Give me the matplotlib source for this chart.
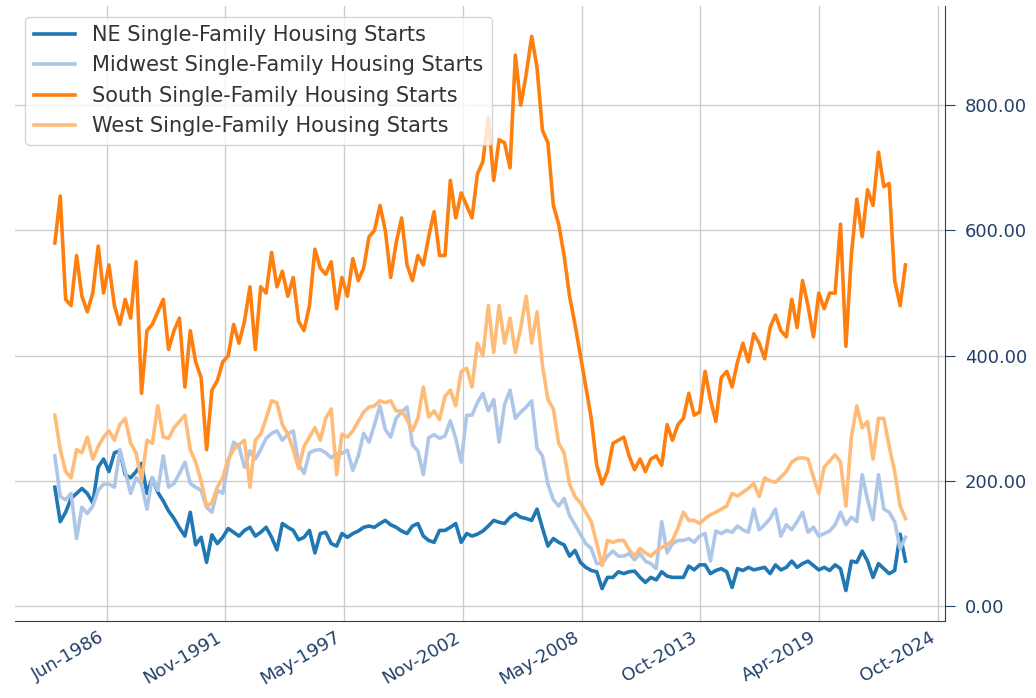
import matplotlib
matplotlib.use("Agg")
import matplotlib.pyplot as plt
import matplotlib.dates as mdates
import pandas as pd

# quarterly readings, Jan-1984 .. Apr-2023 (thousands of units, SAAR)
dates = pd.date_range("1984-01-01", periods=158, freq="QS")

ne = [190, 135, 150, 172, 180, 188, 180, 165, 222, 235, 215, 245, 248, 210, 205, 215,
      228, 180, 205, 182, 168, 152, 140, 125, 112, 150, 98, 110, 70, 114, 100, 110,
      124, 118, 112, 121, 126, 112, 118, 126, 110, 90, 132, 126, 121, 106, 110, 121,
      85, 116, 118, 100, 96, 116, 110, 116, 120, 126, 128, 126, 132, 137, 130, 126,
      120, 116, 128, 132, 112, 105, 102, 121, 121, 126, 132, 102, 116, 112, 115, 120,
      128, 137, 134, 132, 142, 148, 142, 140, 137, 155, 125, 96, 108, 102, 98, 80,
      89, 70, 62, 57, 55, 28, 46, 46, 55, 52, 55, 56, 46, 38, 46, 42,
      55, 48, 46, 46, 46, 64, 58, 66, 66, 52, 57, 60, 55, 30, 60, 57,
      62, 58, 60, 62, 52, 66, 58, 62, 72, 62, 68, 72, 65, 58, 62, 57,
      66, 60, 25, 72, 70, 88, 72, 46, 68, 60, 52, 57, 115, 72]

midwest = [240, 175, 170, 180, 108, 158, 148, 160, 185, 195, 195, 190, 250, 215, 180, 205,
           195, 155, 205, 185, 240, 190, 196, 212, 230, 196, 190, 185, 158, 150, 185, 180,
           230, 262, 255, 222, 248, 235, 250, 268, 276, 280, 265, 275, 280, 228, 212, 245,
           249, 250, 245, 237, 244, 244, 249, 217, 240, 276, 262, 290, 320, 282, 270, 300,
           310, 318, 258, 248, 210, 269, 274, 268, 272, 296, 268, 230, 305, 305, 325, 340,
           312, 330, 262, 322, 345, 300, 310, 318, 328, 252, 240, 195, 170, 160, 172, 145,
           130, 115, 100, 92, 68, 68, 80, 88, 80, 80, 84, 74, 84, 72, 68, 60,
           135, 85, 100, 105, 105, 108, 102, 112, 116, 72, 120, 116, 121, 118, 128, 122,
           118, 155, 122, 130, 140, 155, 112, 130, 122, 135, 150, 118, 126, 112, 116, 120,
           130, 150, 130, 142, 135, 210, 170, 138, 210, 155, 150, 135, 92, 110]

south = [580, 655, 490, 480, 560, 495, 470, 500, 575, 500, 545, 480, 450, 490, 460, 550,
         340, 440, 450, 470, 490, 410, 440, 460, 350, 440, 390, 365, 250, 345, 360, 390,
         400, 450, 420, 455, 510, 410, 510, 500, 565, 510, 535, 495, 525, 455, 440, 480,
         570, 540, 530, 550, 475, 525, 495, 555, 520, 540, 590, 600, 640, 600, 525, 580,
         620, 545, 520, 560, 545, 590, 630, 560, 560, 680, 620, 660, 640, 620, 690, 710,
         780, 680, 745, 740, 700, 880, 800, 850, 910, 860, 760, 740, 640, 610, 560, 495,
         450, 400, 350, 300, 225, 195, 215, 260, 265, 270, 240, 218, 235, 215, 235, 240,
         225, 290, 265, 290, 300, 340, 305, 310, 375, 330, 295, 365, 375, 350, 390, 420,
         390, 435, 420, 395, 445, 465, 440, 430, 490, 445, 520, 480, 430, 500, 475, 500,
         500, 610, 415, 560, 650, 590, 665, 640, 725, 670, 675, 520, 480, 545]

west = [305, 250, 215, 205, 250, 245, 270, 235, 255, 270, 280, 265, 290, 300, 260, 245,
        200, 265, 260, 320, 270, 268, 285, 295, 305, 250, 230, 200, 160, 165, 190, 205,
        235, 250, 258, 265, 190, 265, 275, 300, 328, 325, 290, 275, 250, 220, 255, 270,
        285, 265, 300, 315, 210, 275, 270, 280, 295, 310, 318, 320, 328, 325, 328, 312,
        312, 298, 280, 300, 350, 302, 312, 298, 335, 345, 320, 375, 380, 350, 420, 400,
        480, 405, 480, 420, 460, 405, 445, 495, 420, 470, 385, 330, 315, 260, 245, 195,
        175, 165, 150, 135, 100, 65, 105, 102, 105, 105, 90, 80, 92, 85, 80, 88,
        94, 98, 105, 125, 150, 137, 137, 132, 140, 146, 150, 155, 160, 180, 176, 182,
        188, 196, 175, 205, 200, 198, 206, 215, 230, 236, 237, 235, 206, 180, 222, 232,
        242, 230, 160, 270, 320, 285, 295, 235, 300, 300, 255, 215, 160, 140]

labels = ["NE Single-Family Housing Starts", "Midwest Single-Family Housing Starts",
          "South Single-Family Housing Starts", "West Single-Family Housing Starts"]
colors = ["#1f77b4", "#aec7e8", "#ff7f0e", "#ffbb78"]
tick_dates = pd.to_datetime(["1986-06-01", "1991-11-01", "1997-05-01", "2002-11-01",
                             "2008-05-01", "2013-10-01", "2019-04-01", "2024-10-01"])

navy = "#22406a"

fig = plt.figure(figsize=(10.36, 6.98), dpi=100)
ax = fig.add_axes([0.0145, 0.110, 0.898, 0.881])

for vals, lab, col in zip([ne, midwest, south, west], labels, colors):
    ax.plot(dates, vals, color=col, linewidth=2.6, label=lab)

ax.set_xlim(pd.Timestamp("1982-03-01"), pd.Timestamp("2025-02-01"))
ax.set_ylim(-24, 958)

ax.grid(True, color="#cccccc", linewidth=1)
ax.set_axisbelow(True)

ax.spines["top"].set_visible(False)
ax.spines["left"].set_visible(False)
ax.spines["right"].set_color(navy)
ax.spines["bottom"].set_color(navy)

ax.yaxis.tick_right()
ax.yaxis.set_major_formatter(matplotlib.ticker.FormatStrFormatter("%.2f"))
ax.set_yticks([0, 200, 400, 600, 800])
ax.tick_params(axis="y", colors=navy, labelsize=13, length=7, pad=7)

ax.set_xticks(tick_dates)
ax.xaxis.set_major_formatter(mdates.DateFormatter("%b-%Y"))
ax.tick_params(axis="x", colors=navy, labelsize=13, length=0, pad=5)
for t in ax.get_xticklabels():
    t.set_rotation(30)
    t.set_ha("right")

ax.legend(loc="upper left", fontsize=15, labelcolor="#333333")

fig.savefig("out.png", dpi=100)
